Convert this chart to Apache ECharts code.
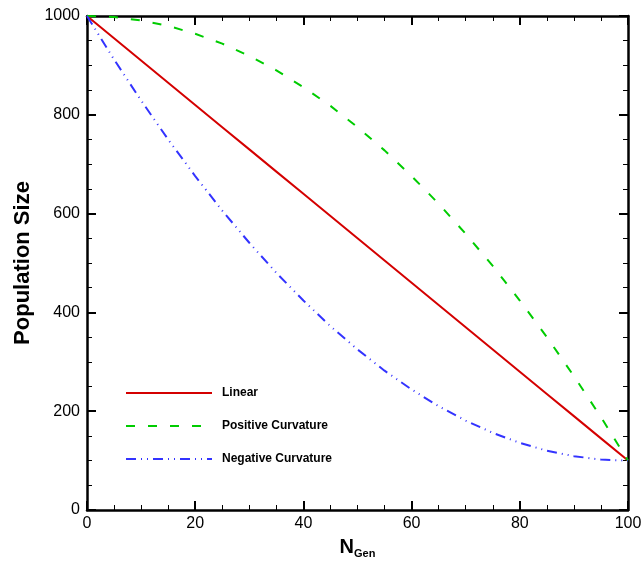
<!DOCTYPE html>
<html>
<head>
<meta charset="utf-8">
<script src="https://cdn.jsdelivr.net/npm/echarts@6/dist/echarts.min.js"></script>
<style>
  html, body { margin: 0; padding: 0; background: #fff; }
  #chart { width: 644px; height: 561px; }
</style>
</head>
<body>
<div id="chart"></div>
<script>
// generation numbers and population sizes
const gens = [0, 5, 10, 15, 20, 25, 30, 35, 40, 45, 50, 55, 60, 65, 70, 75, 80, 85, 90, 95, 100];
const linear = [1000, 955, 910, 865, 820, 775, 730, 685, 640, 595, 550, 505, 460, 415, 370, 325, 280, 235, 190, 145, 100];
const positive = [1000, 998, 991, 980, 964, 944, 919, 890, 856, 818, 775, 728, 676, 620, 559, 494, 424, 350, 271, 188, 100];
const negative = [1000, 912, 829, 750, 676, 606, 541, 480, 424, 372, 325, 282, 244, 210, 181, 156, 136, 120, 109, 102, 100];

const font = 'Liberation Sans, Arial, sans-serif';

function pairs(ys) {
    return gens.map((g, i) => [g, ys[i]]);
}

const chart = echarts.init(document.getElementById('chart'));

const tickCommon = {
    axisLine: { show: true, onZero: false, lineStyle: { color: '#000', width: 2.5 } },
    axisTick: { show: true, inside: true, length: 9, lineStyle: { color: '#000', width: 2 } },
    minorTick: { show: true, splitNumber: 4, length: 5, lineStyle: { color: '#000', width: 1 } },
    splitLine: { show: false }
};

const option = {
    animation: false,
    grid: { left: 87, right: 16, top: 16, bottom: 51, outerBoundsMode: 'none' },
    legend: {
        orient: 'vertical',
        left: 125,
        top: 387,
        padding: 0,
        itemWidth: 86,
        itemHeight: 14,
        itemGap: 21,
        itemStyle: { opacity: 0 },
        textStyle: { fontFamily: font, fontWeight: 'bold', fontSize: 12, color: '#000', padding: [0, 0, 0, 5] },
        data: ['Linear', 'Positive Curvature', 'Negative Curvature']
    },
    xAxis: [
        Object.assign({
            type: 'value', min: 0, max: 100, interval: 20, position: 'bottom',
            axisLabel: { color: '#000', fontFamily: font, fontSize: 16, margin: 6 },
            name: '{a|N}{b|Gen}',
            nameLocation: 'middle',
            nameGap: 26,
            nameTextStyle: {
                rich: {
                    a: { fontFamily: font, fontWeight: 'bold', fontSize: 20, color: '#000' },
                    b: { fontFamily: font, fontWeight: 'bold', fontSize: 11, color: '#000', padding: [12, 0, 0, 0] }
                }
            }
        }, tickCommon),
        Object.assign({
            type: 'value', min: 0, max: 100, interval: 20, position: 'top',
            axisLabel: { show: false }
        }, tickCommon)
    ],
    yAxis: [
        Object.assign({
            type: 'value', min: 0, max: 1000, interval: 200, position: 'left',
            axisLabel: { color: '#000', fontFamily: font, fontSize: 16, margin: 7, formatter: function (v) { return String(v); } },
            name: 'Population Size',
            nameLocation: 'middle',
            nameGap: 53,
            nameTextStyle: { fontFamily: font, fontWeight: 'bold', fontSize: 22, color: '#000' }
        }, tickCommon),
        Object.assign({
            type: 'value', min: 0, max: 1000, interval: 200, position: 'right',
            axisLabel: { show: false }
        }, tickCommon)
    ],
    series: [
        {
            name: 'Linear', type: 'line', symbol: 'none',
            data: pairs(linear),
            lineStyle: { color: '#d40000', width: 2 },
            itemStyle: { color: '#d40000' }
        },
        {
            name: 'Positive Curvature', type: 'line', symbol: 'none',
            data: pairs(positive),
            lineStyle: { color: '#00cc00', width: 2, type: [9, 13] },
            itemStyle: { color: '#00cc00' }
        },
        {
            name: 'Negative Curvature', type: 'line', symbol: 'none',
            data: pairs(negative),
            lineStyle: { color: '#3333ff', width: 2, type: [10, 5, 1, 5, 1, 5] },
            itemStyle: { color: '#3333ff' }
        }
    ]
};

chart.setOption(option);

window.addEventListener('resize', function () {
    chart.resize();
});
</script>
</body>
</html>
